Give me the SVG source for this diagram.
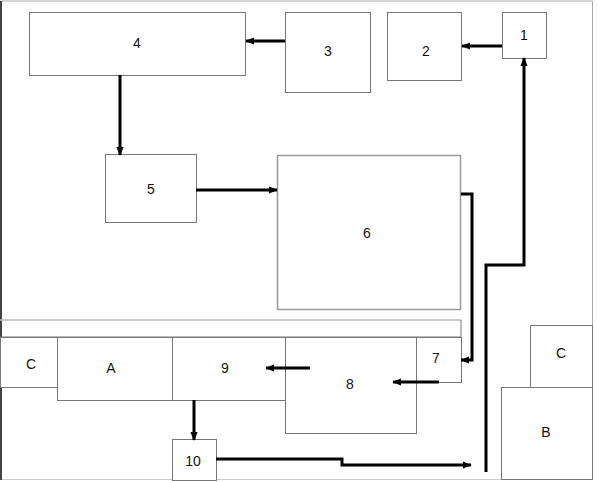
<svg xmlns="http://www.w3.org/2000/svg" width="598" height="482" viewBox="0 0 598 482">
<style>
.b{fill:#fff;stroke:#777;stroke-width:1}
.l{fill:#fff;stroke:#999;stroke-width:1.5}
.t{font-family:"Liberation Sans",Arial,sans-serif;font-size:14px;fill:#111;text-anchor:middle;dominant-baseline:central}
.c{fill:none;stroke:#000;stroke-width:3}
</style>
<defs>
<marker id="ah" viewBox="0 0 10 10" refX="9" refY="5" markerWidth="3" markerHeight="3" orient="auto">
<path d="M0,1 L10,5 L0,9 z" fill="#000"/>
</marker>
</defs>
<rect x="0" y="0" width="598" height="482" fill="#fff"/>
<g id="frame">
<line x1="0.5" y1="1" x2="592.5" y2="1" stroke="#aaa"/>
<line x1="592.5" y1="1" x2="592.5" y2="480" stroke="#aaa"/>
<line x1="0.5" y1="479.5" x2="592.5" y2="479.5" stroke="#ccc"/>
<line x1="1" y1="1" x2="1" y2="480" stroke="#444" stroke-width="2"/>
</g>
<g id="strip">
<line x1="0" y1="320" x2="461" y2="320" stroke="#bbb8b2" stroke-width="1.5"/>
<line x1="461" y1="320" x2="461" y2="337" stroke="#777"/>
<line x1="0" y1="337" x2="461" y2="337" stroke="#777"/>
</g>
<g id="n4"><rect class="b" x="29.5" y="12.5" width="216" height="63"/><text class="t" x="137" y="43">4</text></g>
<g id="n3"><rect class="b" x="285.5" y="12.5" width="85" height="80"/><text class="t" x="328" y="51">3</text></g>
<g id="n2"><rect class="b" x="387.5" y="12.5" width="74" height="68"/><text class="t" x="426" y="51">2</text></g>
<g id="n1"><rect class="b" x="502.5" y="12.5" width="44" height="46"/><text class="t" x="524" y="35">1</text></g>
<g id="n5"><rect class="b" x="105.5" y="154.5" width="91" height="68"/><text class="t" x="151" y="189">5</text></g>
<g id="n6"><rect class="l" x="277.5" y="155.5" width="183" height="154"/><text class="t" x="367" y="233">6</text></g>
<g id="n8"><rect class="b" x="285.5" y="337.5" width="131" height="96"/><text class="t" x="350" y="384">8</text></g>
<g id="n7"><rect class="b" x="416.5" y="337.5" width="45" height="45"/><text class="t" x="436" y="358">7</text></g>
<g id="n9"><rect class="b" x="172.5" y="337.5" width="113" height="63"/><text class="t" x="225" y="368">9</text></g>
<g id="nA"><rect class="b" x="57.5" y="337.5" width="115" height="63"/><text class="t" x="111" y="368">A</text></g>
<g id="nC1"><rect class="b" x="0.5" y="337.5" width="57" height="50"/><text class="t" x="31" y="364">C</text></g>
<g id="n10"><rect class="b" x="172.5" y="439.5" width="44" height="41"/><text class="t" x="193" y="461">10</text></g>
<g id="nC2"><rect class="b" x="530.5" y="325.5" width="62" height="62"/><text class="t" x="561" y="353">C</text></g>
<g id="nB"><rect class="b" x="501.5" y="387.5" width="91" height="92"/><text class="t" x="546" y="432">B</text></g>
<g id="connectors">
<path class="c" d="M285,41 H246" marker-end="url(#ah)"/>
<path class="c" d="M502,46 H462" marker-end="url(#ah)"/>
<path class="c" d="M120,75 V155" marker-end="url(#ah)"/>
<path class="c" d="M196,190 H277" marker-end="url(#ah)"/>
<path class="c" d="M461,194 H472 V360 H461" marker-end="url(#ah)"/>
<path class="c" d="M439,382 H393" marker-end="url(#ah)"/>
<path class="c" d="M310,368 H266" marker-end="url(#ah)"/>
<path class="c" d="M194,400 V440" marker-end="url(#ah)"/>
<path class="c" d="M216,459 H342 V465 H471" marker-end="url(#ah)"/>
<path class="c" d="M486,472 V265 H524 V58" marker-end="url(#ah)"/>
</g>
</svg>
